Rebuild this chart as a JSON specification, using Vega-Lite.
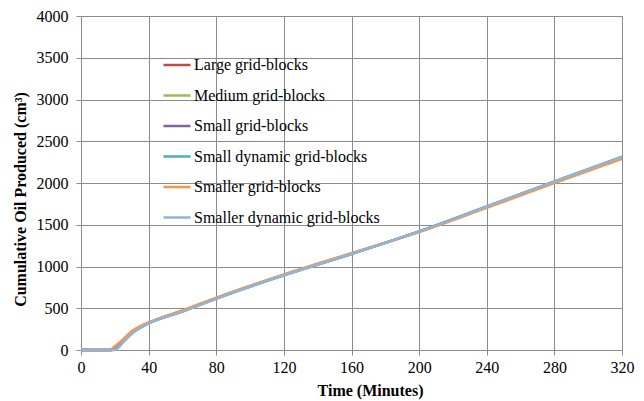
{
  "$schema": "https://vega.github.io/schema/vega-lite/v6.json",
  "autosize": {"type": "none"},
  "width": 541,
  "height": 334,
  "padding": {"left": 81, "top": 16, "right": 22, "bottom": 51},
  "background": "white",
  "config": {
    "font": "Times New Roman",
    "view": {"stroke": null},
    "axis": {
      "gridColor": "#8c8c8c", "gridWidth": 1, "gridOpacity": 1,
      "domainColor": "#8c8c8c", "tickColor": "#8c8c8c", "tickSize": 5,
      "labelFont": "Times New Roman", "labelFontSize": 16, "labelColor": "#000",
      "titleFont": "Times New Roman", "titleFontSize": 16, "titleFontWeight": "bold", "titleColor": "#000"
    },
    "legend": {"labelFont": "Times New Roman"}
  },
  "data": {"values": [
    {"s":"Large grid-blocks","t":0,"v":0},{"s":"Large grid-blocks","t":18,"v":0},{"s":"Large grid-blocks","t":20,"v":30},{"s":"Large grid-blocks","t":25,"v":120},{"s":"Large grid-blocks","t":30,"v":215},{"s":"Large grid-blocks","t":35,"v":278},{"s":"Large grid-blocks","t":40,"v":326},{"s":"Large grid-blocks","t":60,"v":470},{"s":"Large grid-blocks","t":80,"v":622},{"s":"Large grid-blocks","t":120,"v":900},{"s":"Large grid-blocks","t":160,"v":1155},{"s":"Large grid-blocks","t":200,"v":1418},{"s":"Large grid-blocks","t":240,"v":1714},{"s":"Large grid-blocks","t":280,"v":2014},{"s":"Large grid-blocks","t":320,"v":2308},
    {"s":"Medium grid-blocks","t":0,"v":0},{"s":"Medium grid-blocks","t":18,"v":0},{"s":"Medium grid-blocks","t":20,"v":20},{"s":"Medium grid-blocks","t":25,"v":112},{"s":"Medium grid-blocks","t":30,"v":208},{"s":"Medium grid-blocks","t":35,"v":272},{"s":"Medium grid-blocks","t":40,"v":322},{"s":"Medium grid-blocks","t":60,"v":466},{"s":"Medium grid-blocks","t":80,"v":619},{"s":"Medium grid-blocks","t":120,"v":898},{"s":"Medium grid-blocks","t":160,"v":1152},{"s":"Medium grid-blocks","t":200,"v":1419},{"s":"Medium grid-blocks","t":240,"v":1716},{"s":"Medium grid-blocks","t":280,"v":2016},{"s":"Medium grid-blocks","t":320,"v":2310},
    {"s":"Small grid-blocks","t":0,"v":0},{"s":"Small grid-blocks","t":18,"v":0},{"s":"Small grid-blocks","t":20,"v":10},{"s":"Small grid-blocks","t":25,"v":105},{"s":"Small grid-blocks","t":30,"v":202},{"s":"Small grid-blocks","t":35,"v":268},{"s":"Small grid-blocks","t":40,"v":320},{"s":"Small grid-blocks","t":60,"v":463},{"s":"Small grid-blocks","t":80,"v":617},{"s":"Small grid-blocks","t":120,"v":896},{"s":"Small grid-blocks","t":160,"v":1151},{"s":"Small grid-blocks","t":200,"v":1420},{"s":"Small grid-blocks","t":240,"v":1717},{"s":"Small grid-blocks","t":280,"v":2017},{"s":"Small grid-blocks","t":320,"v":2311},
    {"s":"Small dynamic grid-blocks","t":0,"v":0},{"s":"Small dynamic grid-blocks","t":18,"v":0},{"s":"Small dynamic grid-blocks","t":20,"v":5},{"s":"Small dynamic grid-blocks","t":25,"v":100},{"s":"Small dynamic grid-blocks","t":30,"v":198},{"s":"Small dynamic grid-blocks","t":35,"v":266},{"s":"Small dynamic grid-blocks","t":40,"v":319},{"s":"Small dynamic grid-blocks","t":60,"v":461},{"s":"Small dynamic grid-blocks","t":80,"v":616},{"s":"Small dynamic grid-blocks","t":120,"v":895},{"s":"Small dynamic grid-blocks","t":160,"v":1150},{"s":"Small dynamic grid-blocks","t":200,"v":1420},{"s":"Small dynamic grid-blocks","t":240,"v":1718},{"s":"Small dynamic grid-blocks","t":280,"v":2018},{"s":"Small dynamic grid-blocks","t":320,"v":2312},
    {"s":"Smaller grid-blocks","t":0,"v":0},{"s":"Smaller grid-blocks","t":17,"v":0},{"s":"Smaller grid-blocks","t":20,"v":45},{"s":"Smaller grid-blocks","t":25,"v":130},{"s":"Smaller grid-blocks","t":30,"v":225},{"s":"Smaller grid-blocks","t":35,"v":285},{"s":"Smaller grid-blocks","t":40,"v":330},{"s":"Smaller grid-blocks","t":60,"v":475},{"s":"Smaller grid-blocks","t":80,"v":628},{"s":"Smaller grid-blocks","t":120,"v":905},{"s":"Smaller grid-blocks","t":160,"v":1160},{"s":"Smaller grid-blocks","t":200,"v":1412},{"s":"Smaller grid-blocks","t":240,"v":1702},{"s":"Smaller grid-blocks","t":280,"v":1998},{"s":"Smaller grid-blocks","t":320,"v":2290},
    {"s":"Smaller dynamic grid-blocks","t":0,"v":0},{"s":"Smaller dynamic grid-blocks","t":18,"v":0},{"s":"Smaller dynamic grid-blocks","t":20,"v":0},{"s":"Smaller dynamic grid-blocks","t":25,"v":95},{"s":"Smaller dynamic grid-blocks","t":30,"v":195},{"s":"Smaller dynamic grid-blocks","t":35,"v":265},{"s":"Smaller dynamic grid-blocks","t":40,"v":318},{"s":"Smaller dynamic grid-blocks","t":60,"v":460},{"s":"Smaller dynamic grid-blocks","t":80,"v":615},{"s":"Smaller dynamic grid-blocks","t":120,"v":895},{"s":"Smaller dynamic grid-blocks","t":160,"v":1150},{"s":"Smaller dynamic grid-blocks","t":200,"v":1420},{"s":"Smaller dynamic grid-blocks","t":240,"v":1718},{"s":"Smaller dynamic grid-blocks","t":280,"v":2018},{"s":"Smaller dynamic grid-blocks","t":320,"v":2312}
  ]},
  "mark": {"type": "line", "strokeWidth": 2.5, "interpolate": "monotone"},
  "encoding": {
    "x": {"field": "t", "type": "quantitative", "title": "Time (Minutes)",
      "scale": {"domain": [0, 320], "nice": false},
      "axis": {"values": [0,40,80,120,160,200,240,280,320], "format": "d", "labelPadding": 4, "titlePadding": 7, "titleX": 289, "labelFlush": false}},
    "y": {"field": "v", "type": "quantitative", "title": "Cumulative Oil Produced (cm³)",
      "scale": {"domain": [0, 4000], "nice": false},
      "axis": {"values": [0,500,1000,1500,2000,2500,3000,3500,4000], "format": "d", "labelPadding": 8, "titlePadding": 8, "titleY": 183, "labelFlush": false}},
    "color": {"field": "s", "type": "nominal",
      "scale": {
        "domain": ["Large grid-blocks","Medium grid-blocks","Small grid-blocks","Small dynamic grid-blocks","Smaller grid-blocks","Smaller dynamic grid-blocks"],
        "range": ["#BE4B48","#9BBB59","#8064A2","#4BACC6","#F79646","#95B3D7"]},
      "legend": {"title": null, "orient": "none", "legendX": 81, "legendY": 34,
        "symbolType": "stroke", "symbolSize": 729, "symbolStrokeWidth": 2.5,
        "labelFont": "Times New Roman", "labelFontSize": 16, "labelColor": "#000",
        "labelOffset": 2, "rowPadding": 7.5, "padding": 0, "labelLimit": 400}}
  }
}
